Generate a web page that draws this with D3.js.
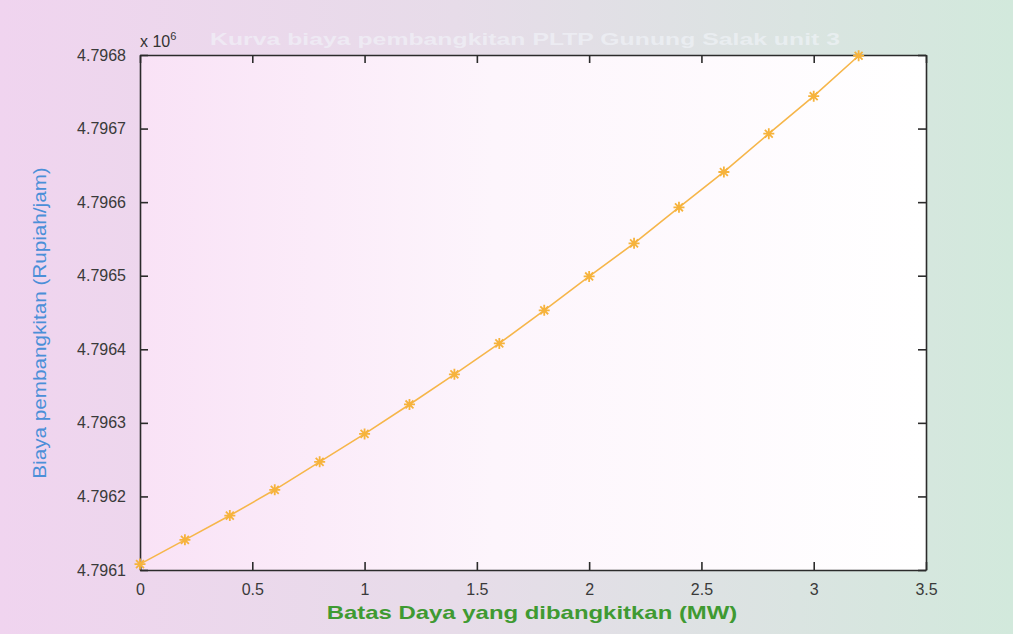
<!DOCTYPE html>
<html>
<head>
<meta charset="utf-8">
<script src="https://cdn.jsdelivr.net/npm/d3@7"></script>
<style>
  body { margin: 0; padding: 0; overflow: hidden; }
  svg { display: block; }
</style>
</head>
<body>
<div id="chart"></div>
<script>
const powerMW = [0, 0.2, 0.4, 0.6, 0.8, 1.0, 1.2, 1.4, 1.6, 1.8, 2.0, 2.2, 2.4, 2.6, 2.8, 3.0, 3.2];
const costE6 = [4.796108, 4.796141, 4.796174, 4.796209, 4.796247, 4.796285, 4.796325, 4.796366,
                4.796408, 4.796453, 4.796499, 4.796544, 4.796593, 4.796641, 4.796693, 4.796744, 4.796799];
const xTicks = [0, 0.5, 1, 1.5, 2, 2.5, 3, 3.5];
const yTicks = [4.7961, 4.7962, 4.7963, 4.7964, 4.7965, 4.7966, 4.7967, 4.7968];

const W = 1013, H = 634;
const margin = { top: 55, right: 87, bottom: 64, left: 140 };
const width = W - margin.left - margin.right,
      height = H - margin.top - margin.bottom;

const svg = d3.select("#chart").append("svg")
    .attr("width", W)
    .attr("height", H);

const defs = svg.append("defs");
const bg = defs.append("linearGradient").attr("id", "bg");
bg.append("stop").attr("offset", "0%").attr("stop-color", "#f0d4ef");
bg.append("stop").attr("offset", "45%").attr("stop-color", "#e7dce9");
bg.append("stop").attr("offset", "100%").attr("stop-color", "#d2e9dc");
const inner = defs.append("linearGradient").attr("id", "inner");
inner.append("stop").attr("offset", "0%").attr("stop-color", "#f9e2f6");
inner.append("stop").attr("offset", "45%").attr("stop-color", "#fdf5fc");
inner.append("stop").attr("offset", "100%").attr("stop-color", "#ffffff");

svg.append("rect").attr("width", W).attr("height", H).attr("fill", "url(#bg)");

const g = svg.append("g")
    .attr("transform", `translate(${margin.left},${margin.top})`);

const x = d3.scaleLinear().domain([0, 3.5]).range([0, width]);
const y = d3.scaleLinear().domain([4.7961, 4.7968]).range([height, 0]);

g.append("rect")
    .attr("width", width)
    .attr("height", height)
    .attr("fill", "url(#inner)");

const tickLen = 8;
const axisColor = "#2b2b2b";

// bottom + top
g.append("g")
    .attr("class", "x axis")
    .attr("transform", `translate(0,${height})`)
    .call(d3.axisBottom(x).tickValues(xTicks).tickFormat(d3.format("")).tickSizeInner(-tickLen).tickSizeOuter(0).tickPadding(14));
g.append("g")
    .attr("class", "x2 axis")
    .call(d3.axisTop(x).tickValues(xTicks).tickFormat("").tickSizeInner(-tickLen).tickSizeOuter(0));

// left + right
g.append("g")
    .attr("class", "y axis")
    .call(d3.axisLeft(y).tickValues(yTicks).tickFormat(d3.format(".4f")).tickSizeInner(-tickLen).tickSizeOuter(0).tickPadding(14));
g.append("g")
    .attr("class", "y2 axis")
    .attr("transform", `translate(${width},0)`)
    .call(d3.axisRight(y).tickValues(yTicks).tickFormat("").tickSizeInner(-tickLen).tickSizeOuter(0));

g.selectAll(".axis path, .axis line")
    .attr("stroke", axisColor)
    .attr("stroke-width", 1.6);
g.selectAll(".axis text")
    .attr("fill", "#3a3a3a")
    .style("font-family", "'Liberation Sans', Arial, sans-serif")
    .style("font-size", "16px");

// exponent label
g.append("text")
    .attr("x", 0)
    .attr("y", -8)
    .attr("fill", "#333")
    .style("font-family", "'Liberation Sans', Arial, sans-serif")
    .style("font-size", "16px")
    .text("x 10")
    .append("tspan")
    .attr("dy", -7)
    .style("font-size", "11px")
    .text("6");

// washed-out title
svg.append("text")
    .attr("transform", "translate(525,45) scale(1.55,1)")
    .attr("text-anchor", "middle")
    .attr("fill", "#f2f5fa")
    .attr("opacity", 0.6)
    .style("font-family", "'Liberation Sans', Arial, sans-serif")
    .style("font-size", "16px")
    .style("font-weight", "bold")
    .text("Kurva biaya pembangkitan PLTP Gunung Salak unit 3");

const line = d3.line()
    .x((d, i) => x(powerMW[i]))
    .y(d => y(d));

g.append("path")
    .datum(costE6)
    .attr("fill", "none")
    .attr("stroke", "#f6b64a")
    .attr("stroke-width", 1.6)
    .attr("d", line);

// MATLAB-style asterisk markers
const r = 5.5, rd = r * 0.72;
const star = `M${-r},0L${r},0M0,${-r}L0,${r}M${-rd},${-rd}L${rd},${rd}M${-rd},${rd}L${rd},${-rd}`;
g.selectAll(".marker")
    .data(costE6)
    .enter().append("path")
    .attr("class", "marker")
    .attr("transform", (d, i) => `translate(${x(powerMW[i])},${y(d)})`)
    .attr("d", star)
    .attr("stroke", "#f6b33c")
    .attr("stroke-width", 1.8)
    .attr("fill", "none");

// axis titles (glyphs in the source are stretched horizontally)
svg.append("text")
    .attr("transform", "translate(532,619) scale(1.33,1)")
    .attr("text-anchor", "middle")
    .attr("fill", "#3f9a32")
    .style("font-family", "'Liberation Sans', Arial, sans-serif")
    .style("font-size", "18px")
    .style("font-weight", "bold")
    .text("Batas Daya yang dibangkitkan (MW)");

svg.append("text")
    .attr("transform", "translate(46,323) rotate(-90) scale(1.15,1)")
    .attr("text-anchor", "middle")
    .attr("fill", "#4b8fd8")
    .style("font-family", "'Liberation Sans', Arial, sans-serif")
    .style("font-size", "18px")
    .text("Biaya pembangkitan (Rupiah/jam)");
</script>
</body>
</html>
